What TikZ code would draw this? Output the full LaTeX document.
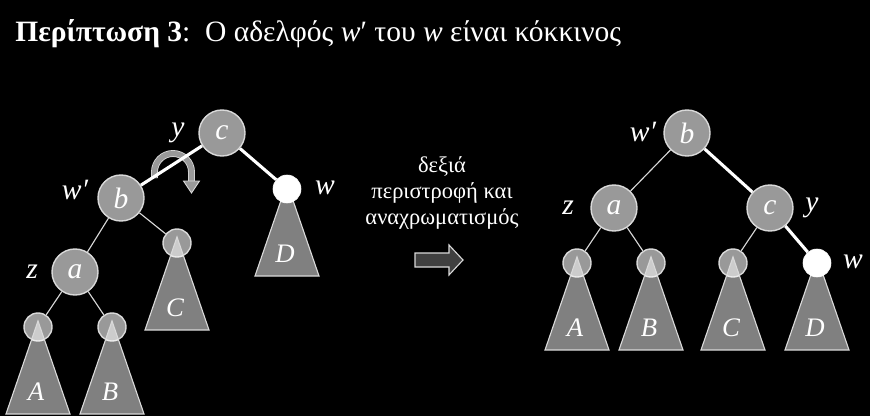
\documentclass[tikz,border=0pt]{standalone}
\usepackage{fontspec}
\setmainfont{Liberation Serif}
\usetikzlibrary{calc}

\definecolor{ngray}{HTML}{999999}
\definecolor{lgray}{HTML}{D9D9D9}
\definecolor{agray}{HTML}{404040}

\begin{document}
\begin{tikzpicture}[x=0.025cm,y=0.025cm,
  key/.style={circle,draw=lgray,fill=ngray,line width=1pt,minimum size=1.15cm,inner sep=0pt,
    text=white,font=\fontsize{21}{23}\selectfont\itshape},
  sub/.style={circle,draw=lgray,fill=ngray,line width=1pt,minimum size=0.7cm,inner sep=0pt},
  leaf/.style={circle,draw=white,fill=white,minimum size=0.7cm,inner sep=0pt},
  heavy/.style={white,line width=2.2pt},
  light/.style={lgray,line width=0.8pt},
  tri/.style={draw=lgray,line width=0.8pt,fill=white,fill opacity=0.5},
  tag/.style={text=white,font=\fontsize{21}{23}\selectfont\itshape},
  sublbl/.style={text=white,font=\fontsize{19}{21}\selectfont\itshape}]

\fill[black] (0,0) rectangle (870,-416);

% title
\node[anchor=base west,text=white,font=\fontsize{21}{24}\selectfont,inner sep=0pt] (title) at (15,-41)
  {\textbf{Περίπτωση 3}:\ \ Ο αδελφός \textit{w}′ του \textit{w} είναι κόκκινος};

% before
\node[key] (lc) at (222,-133) {c};
\node[key] (lb) at (121,-198) {b};
\coordinate (lwp) at (287,-189);
\node[key] (la) at (75,-272) {a};
\node[sub] (lC) at (177,-243) {};
\node[sub] (lA) at (38,-327) {};
\node[sub] (lB) at (112,-327) {};

% rotation arrow
\draw[draw=lgray,double=ngray,double distance=0.13cm,line width=0.6pt]
  (154.5,-178) -- (154.5,-172) arc[start angle=180,end angle=0,radius=18.5] -- (191.5,-181);
\draw[draw=lgray,fill=ngray,line width=0.6pt] (183.5,-181) -- (199.5,-181) -- (191.5,-193) -- cycle;

% after
\node[key] (rb) at (687,-133) {b};
\node[key] (ra) at (614,-208) {a};
\node[key] (rc) at (770,-208) {c};
\node[sub] (rA) at (577,-263) {};
\node[sub] (rB) at (651,-263) {};
\node[sub] (rC) at (733,-263) {};
\coordinate (rwp) at (817,-263);

% subtrees
\foreach \n/\t in {lA/A,lB/B,lC/C,lwp/D,rA/A,rB/B,rC/C,rwp/D} {
  \draw[tri] ($(\n)+(0,6)$) -- ($(\n)+(-32,-87)$) -- ($(\n)+(32,-87)$) -- cycle;
  \node[sublbl] (t\n) at ($(\n)+(-2,-65)$) {\t};
}

\node[leaf] (lw) at (lwp) {};
\node[leaf] (rw) at (rwp) {};

\draw[heavy] (lc) -- (lb);
\draw[heavy] (lc) -- (lw);
\draw[light] (lb) -- (la);
\draw[light] (lb) -- (lC);
\draw[light] (la) -- (lA);
\draw[light] (la) -- (lB);

\draw[heavy] (rb) -- (rc);
\draw[heavy] (rc) -- (rw);
\draw[light] (rb) -- (ra);
\draw[light] (ra) -- (rA);
\draw[light] (ra) -- (rB);
\draw[light] (rc) -- (rC);

\node[tag] (ly) at (178,-133) {y};
\node[tag] (lw1) at (75,-190) {w′};
\node[tag] (lw2) at (325,-188) {w};
\node[tag] (lz) at (32,-272) {z};

\node[tag] (rw1) at (643,-132) {w′};
\node[tag] (rz) at (568,-208) {z};
\node[tag] (ry) at (812,-208) {y};
\node[tag] (rw2) at (853,-262) {w};

% middle
\node[align=center,text=white,font=\fontsize{16}{18.4}\selectfont] (txt) at (442,-193)
  {δεξιά\\περιστροφή και\\αναχρωματισμός};
\draw[draw=lgray,fill=agray,line width=0.8pt] (415,-253) -- (449,-253) -- (449,-245) -- (463,-260)
  -- (449,-275) -- (449,-267) -- (415,-267) -- cycle;

\end{tikzpicture}
\end{document}
